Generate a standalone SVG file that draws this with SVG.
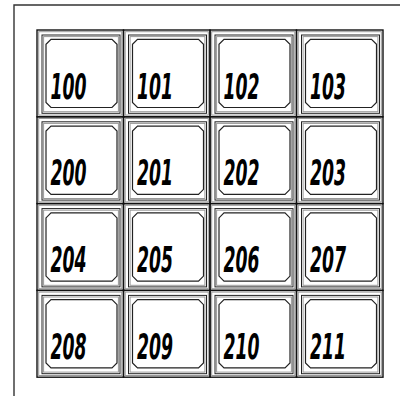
<svg xmlns="http://www.w3.org/2000/svg" width="404" height="396" viewBox="0 0 404 396">
<defs>
<style>
.grid{fill:none;stroke:#111;stroke-width:1.4}
.g1{fill:none;stroke:#999;stroke-width:1}
.d1{fill:none;stroke:#222;stroke-width:1}
.ch{fill:#fff;stroke:#222;stroke-width:1.2}
.lbl{font-family:"DejaVu Sans",sans-serif;font-style:italic;font-weight:bold;font-size:35px;fill:#000}
.frame{fill:none;stroke:#333;stroke-width:1.4}
</style>
<g id="cell">
<rect class="grid" x="0" y="0" width="86.5" height="86.8"/>
<rect class="g1" x="1.7" y="1.7" width="83.1" height="83.4"/>
<rect class="d1" x="5" y="5" width="78" height="78.3"/>
<rect class="g1" x="6.6" y="6.6" width="74.8" height="75.1"/>
<polygon class="ch" points="14,9.3 75,9.3 80,14.3 80,72.5 75,77.5 14,77.5 9,72.5 9,14.3"/>
</g>
</defs>
<rect width="404" height="396" fill="#fff"/>
<polyline class="frame" points="400,5 14,5 14,396"/>
<g id="nodes">
<g id="n100" transform="translate(37,30)"><use href="#cell"/><text class="lbl" x="13.5" y="68.5" textLength="36" lengthAdjust="spacingAndGlyphs">100</text></g>
<g id="n101" transform="translate(123.5,30)"><use href="#cell"/><text class="lbl" x="13.5" y="68.5" textLength="36" lengthAdjust="spacingAndGlyphs">101</text></g>
<g id="n102" transform="translate(210,30)"><use href="#cell"/><text class="lbl" x="13.5" y="68.5" textLength="36" lengthAdjust="spacingAndGlyphs">102</text></g>
<g id="n103" transform="translate(296.5,30)"><use href="#cell"/><text class="lbl" x="13.5" y="68.5" textLength="36" lengthAdjust="spacingAndGlyphs">103</text></g>
<g id="n200" transform="translate(37,116.8)"><use href="#cell"/><text class="lbl" x="13.5" y="68.5" textLength="36" lengthAdjust="spacingAndGlyphs">200</text></g>
<g id="n201" transform="translate(123.5,116.8)"><use href="#cell"/><text class="lbl" x="13.5" y="68.5" textLength="36" lengthAdjust="spacingAndGlyphs">201</text></g>
<g id="n202" transform="translate(210,116.8)"><use href="#cell"/><text class="lbl" x="13.5" y="68.5" textLength="36" lengthAdjust="spacingAndGlyphs">202</text></g>
<g id="n203" transform="translate(296.5,116.8)"><use href="#cell"/><text class="lbl" x="13.5" y="68.5" textLength="36" lengthAdjust="spacingAndGlyphs">203</text></g>
<g id="n204" transform="translate(37,203.6)"><use href="#cell"/><text class="lbl" x="13.5" y="68.5" textLength="36" lengthAdjust="spacingAndGlyphs">204</text></g>
<g id="n205" transform="translate(123.5,203.6)"><use href="#cell"/><text class="lbl" x="13.5" y="68.5" textLength="36" lengthAdjust="spacingAndGlyphs">205</text></g>
<g id="n206" transform="translate(210,203.6)"><use href="#cell"/><text class="lbl" x="13.5" y="68.5" textLength="36" lengthAdjust="spacingAndGlyphs">206</text></g>
<g id="n207" transform="translate(296.5,203.6)"><use href="#cell"/><text class="lbl" x="13.5" y="68.5" textLength="36" lengthAdjust="spacingAndGlyphs">207</text></g>
<g id="n208" transform="translate(37,290.4)"><use href="#cell"/><text class="lbl" x="13.5" y="68.5" textLength="36" lengthAdjust="spacingAndGlyphs">208</text></g>
<g id="n209" transform="translate(123.5,290.4)"><use href="#cell"/><text class="lbl" x="13.5" y="68.5" textLength="36" lengthAdjust="spacingAndGlyphs">209</text></g>
<g id="n210" transform="translate(210,290.4)"><use href="#cell"/><text class="lbl" x="13.5" y="68.5" textLength="36" lengthAdjust="spacingAndGlyphs">210</text></g>
<g id="n211" transform="translate(296.5,290.4)"><use href="#cell"/><text class="lbl" x="13.5" y="68.5" textLength="36" lengthAdjust="spacingAndGlyphs">211</text></g>
</g>
<g id="connectors"/>
</svg>
